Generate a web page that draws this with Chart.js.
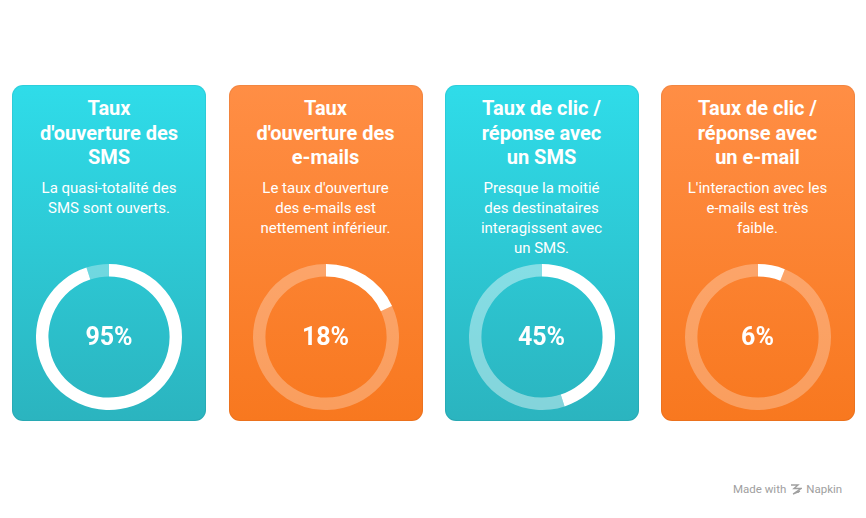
<!DOCTYPE html>
<html lang="fr">
<head>
<meta charset="utf-8">
<script src="https://cdn.jsdelivr.net/npm/chart.js@4.4.1/dist/chart.umd.min.js"></script>
<style>
  html, body { margin: 0; padding: 0; background: #fff; }
  body { width: 866px; height: 518px; position: relative; overflow: hidden; font-family: Roboto, "Noto Sans", sans-serif; }
  .card { position: absolute; top: 85px; width: 194px; height: 336px; border-radius: 11px; box-sizing: border-box; color: #fff; text-align: center; }
  .card.cyan { background: linear-gradient(180deg, #2fdce9 0%, #2bb4bf 100%); box-shadow: inset 0 0 0 1px rgba(0,0,0,0.06); }
  .card.orange { background: linear-gradient(180deg, #ff8e45 0%, #f8781f 100%); box-shadow: inset 0 0 0 1px rgba(0,0,0,0.05); }
  .title { position: absolute; left: 0; right: 0; top: 11px; font-weight: 700; font-size: 20px; line-height: 24.5px; white-space: pre-line; }
  .desc { position: absolute; left: 0; right: 0; font-size: 15px; line-height: 20px; white-space: pre-line; }
  .ring { position: absolute; top: 179px; width: 146px; height: 146px; }
  .ring canvas { position: absolute; left: 0; top: 0; }
  .pct { position: absolute; left: 0; right: 0; top: 0; height: 146px; line-height: 146px; font-size: 25px; font-weight: 700; }
  .footer { position: absolute; left: 733px; top: 482px; font-size: 11.5px; color: #a0a0a0; display: flex; align-items: center; gap: 4px; }
</style>
</head>
<body>
<div id="cards"></div>
<div class="footer"><span>Made with</span>
  <svg width="12" height="12" viewBox="0 0 12 12"><g fill="none" stroke="#a0a0a0" stroke-width="1.4"><path d="M1 2 L8 2 L4 5.5 L11 5.5 L6 9 L9 9"/><path d="M3 11 L10 8"/></g></svg>
  <span>Napkin</span></div>
<script>
const titles = ["Taux\nd'ouverture des\nSMS", "Taux\nd'ouverture des\ne-mails", "Taux de clic /\nréponse avec\nun SMS", "Taux de clic /\nréponse avec\nun e-mail"];
const descriptions = ["La quasi-totalité des\nSMS sont ouverts.", "Le taux d'ouverture\ndes e-mails est\nnettement inférieur.", "Presque la moitié\ndes destinataires\ninteragissent avec\nun SMS.", "L'interaction avec les\ne-mails est très\nfaible."];
const values = [95, 18, 45, 6];
const themes = ["cyan", "orange", "cyan", "orange"];
const cardLefts = [12, 228.5, 444.5, 660.5];
const trackColors = ["rgba(255,255,255,0.32)", "rgba(255,255,255,0.28)", "rgba(255,255,255,0.42)", "rgba(255,255,255,0.28)"];

const container = document.getElementById('cards');
values.forEach((v, i) => {
  const card = document.createElement('div');
  card.className = 'card ' + themes[i];
  card.style.left = cardLefts[i] + 'px';
  const t = document.createElement('div');
  t.className = 'title';
  t.textContent = titles[i];
  const d = document.createElement('div');
  d.className = 'desc';
  d.style.top = '93px';
  d.textContent = descriptions[i];
  const ring = document.createElement('div');
  ring.className = 'ring';
  ring.style.left = ((194 - 146) / 2) + 'px';
  const cv = document.createElement('canvas');
  cv.width = 146; cv.height = 146;
  cv.style.width = '146px'; cv.style.height = '146px';
  const p = document.createElement('div');
  p.className = 'pct';
  p.textContent = v + '%';
  ring.appendChild(cv);
  ring.appendChild(p);
  card.appendChild(t);
  card.appendChild(d);
  card.appendChild(ring);
  container.appendChild(card);

  new Chart(cv, {
    type: 'doughnut',
    data: {
      labels: ['valeur', 'reste'],
      datasets: [{
        data: [v, 100 - v],
        backgroundColor: ['#ffffff', trackColors[i]],
        borderWidth: 0
      }]
    },
    options: {
      responsive: false,
      animation: false,
      cutout: '83%',
      layout: { padding: 0 },
      plugins: { legend: { display: false }, tooltip: { enabled: false } }
    }
  });
});
</script>
</body>
</html>
